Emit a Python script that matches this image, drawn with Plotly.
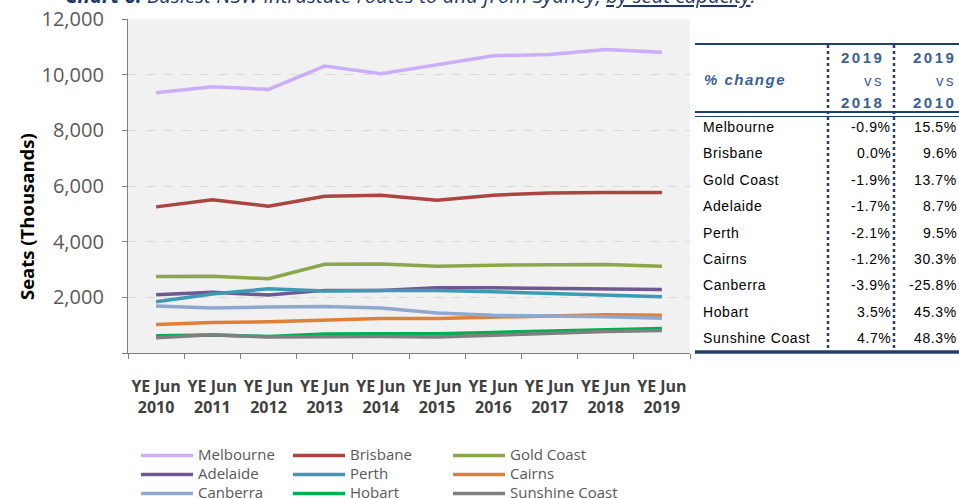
import plotly.graph_objects as go

# ---------------- data ----------------
categories = ["YE Jun<br>2010", "YE Jun<br>2011", "YE Jun<br>2012", "YE Jun<br>2013", "YE Jun<br>2014",
              "YE Jun<br>2015", "YE Jun<br>2016", "YE Jun<br>2017", "YE Jun<br>2018", "YE Jun<br>2019"]

melbourne = [9350, 9565, 9472, 10309, 10032, 10370, 10679, 10729, 10900, 10801]
brisbane = [5250, 5510, 5270, 5630, 5670, 5490, 5670, 5750, 5770, 5770]
gold_coast = [2750, 2760, 2670, 3190, 3200, 3120, 3155, 3155, 3180, 3120]
adelaide = [2095, 2180, 2083, 2250, 2250, 2345, 2345, 2333, 2320, 2285]
perth = [1845, 2120, 2310, 2226, 2250, 2250, 2200, 2143, 2070, 2024]
cairns = [1024, 1095, 1119, 1190, 1238, 1238, 1298, 1333, 1370, 1357]
canberra = [1690, 1619, 1655, 1667, 1619, 1440, 1357, 1333, 1300, 1250]
hobart = [619, 643, 595, 679, 690, 690, 738, 786, 851, 881]
sunshine_coast = [548, 655, 571, 583, 595, 571, 643, 702, 774, 810]

y_tick_values = [0, 2000, 4000, 6000, 8000, 10000, 12000]
y_tick_labels = ["", "2,000", "4,000", "6,000", "8,000", "10,000", "12,000"]

table_routes = ["Melbourne", "Brisbane", "Gold Coast", "Adelaide", "Perth",
                "Cairns", "Canberra", "Hobart", "Sunshine Coast"]
chg_vs_2018 = ["-0.9%", "0.0%", "-1.9%", "-1.7%", "-2.1%", "-1.2%", "-3.9%", "3.5%", "4.7%"]
chg_vs_2010 = ["15.5%", "9.6%", "13.7%", "8.7%", "9.5%", "30.3%", "-25.8%", "45.3%", "48.3%"]

title_text = ("<b>Chart 6:</b> Busiest NSW intrastate routes to and from Sydney, "
              "<u>by seat capacity</u>.")

# (name, values, colour, legend column)
series = [
    ("Melbourne", melbourne, "#CBAEF9", "legend"),
    ("Brisbane", brisbane, "#AB4542", "legend2"),
    ("Gold Coast", gold_coast, "#8CA74B", "legend3"),
    ("Adelaide", adelaide, "#6F5792", "legend"),
    ("Perth", perth, "#3E9AB3", "legend2"),
    ("Cairns", cairns, "#E08038", "legend3"),
    ("Canberra", canberra, "#8FA8D0", "legend"),
    ("Hobart", hobart, "#00B050", "legend2"),
    ("Sunshine Coast", sunshine_coast, "#7F7F7F", "legend3"),
]

# ---------------- layout geometry ----------------
W, H = 959, 498
L, R, T, B = 128, 269, 19, 145
PW, PH = W - L - R, H - T - B


def px(x):
    return (x - L) / PW


def py(y):
    return (H - B - y) / PH


fig = go.Figure()
for name, vals, col, lg in series:
    fig.add_trace(go.Scatter(x=categories, y=vals, mode="lines", legend=lg,
                             name=f"<span style='font-size:15px'>{name}</span>",
                             line=dict(color=col, width=3.5)))


def legend_at(xpix):
    return dict(orientation="v", x=px(xpix), y=py(441), xanchor="left", yanchor="top",
                itemwidth=52, font=dict(size=12, color="#595959", family="Open Sans"),
                bgcolor="rgba(0,0,0,0)", tracegroupgap=0)


fig.update_layout(
    width=W, height=H,
    margin=dict(l=L, r=R, t=T, b=B, pad=0, autoexpand=False),
    paper_bgcolor="white",
    plot_bgcolor="#F1F1F1",
    font=dict(family="Open Sans", color="#595959"),
    showlegend=True,
    legend=legend_at(136),
    legend2=legend_at(288),
    legend3=legend_at(448),
)

fig.update_xaxes(
    type="category", tickson="boundaries", ticks="outside", ticklen=5, tickcolor="#808080",
    showline=True, linecolor="#808080", linewidth=1.3, showgrid=False, tickangle=0,
    tickfont=dict(size=16, color="#404040", family="Open Sans", weight="bold"),
    ticklabelstandoff=19, range=[-0.5, 9.5],
)
fig.update_yaxes(
    range=[0, 12000], tickvals=y_tick_values, ticktext=y_tick_labels,
    ticks="outside", ticklen=5, tickcolor="#808080",
    showline=True, linecolor="#808080", linewidth=1.3,
    showgrid=True, gridcolor="#D9D9D9", griddash="dash", gridwidth=1,
    zeroline=False,
    tickfont=dict(size=20, color="#595959", family="Open Sans"),
    ticklabelstandoff=14,
)

ann = []
# title (partly cut off at top)
ann.append(dict(text=title_text, x=px(63), y=py(-5), xref="paper", yref="paper",
                xanchor="left", yanchor="middle", showarrow=False,
                font=dict(size=20.5, color="#1F3864", family="Open Sans", style="italic")))
# y axis title
ann.append(dict(text="<b>Seats (Thousands)</b>", x=px(26), y=py(217), xref="paper", yref="paper",
                xanchor="center", yanchor="middle", textangle=-90, showarrow=False,
                font=dict(size=18.5, color="#000000", family="Open Sans")))

# ---------------- table ----------------
hdr_col = "#3A5F93"
line_col = "#24406A"
tfont = "Liberation Sans"
ls = "letter-spacing:1.5px"
ann.append(dict(text=f"<span style='{ls}'><b><i>% change</i></b></span>", x=px(702), y=py(79),
                xref="paper", yref="paper", xanchor="left", yanchor="middle", showarrow=False,
                font=dict(size=15, color=hdr_col, family=tfont)))
for xr, yr in [(886, "2018"), (958, "2010")]:
    for txt, yy in [("2019", 57), ("vs", 80), (yr, 102)]:
        t = f"<b>{txt}</b>" if txt != "vs" else txt
        ann.append(dict(text=f"<span style='letter-spacing:2.5px'>{t}</span>", x=px(xr), y=py(yy),
                        xref="paper", yref="paper", xanchor="right", yanchor="middle",
                        showarrow=False, font=dict(size=15, color=hdr_col, family=tfont)))
for i, (r, a, b) in enumerate(zip(table_routes, chg_vs_2018, chg_vs_2010)):
    yy = 127 + i * 26.4
    ann.append(dict(text=f"<span style='letter-spacing:0.6px'>{r}</span>", x=px(701), y=py(yy),
                    xref="paper", yref="paper", xanchor="left", yanchor="middle", showarrow=False,
                    font=dict(size=14, color="#000000", family=tfont)))
    ann.append(dict(text=f"<span style='letter-spacing:0.6px'>{a}</span>", x=px(893), y=py(yy),
                    xref="paper", yref="paper", xanchor="right", yanchor="middle", showarrow=False,
                    font=dict(size=14, color="#000000", family=tfont)))
    ann.append(dict(text=f"<span style='letter-spacing:0.6px'>{b}</span>", x=px(959), y=py(yy),
                    xref="paper", yref="paper", xanchor="right", yanchor="middle", showarrow=False,
                    font=dict(size=14, color="#000000", family=tfont)))

shapes = []
shapes.append(dict(type="line", xref="paper", yref="paper", x0=px(695), x1=px(962),
                   y0=py(44), y1=py(44), line=dict(color=line_col, width=2.2)))
shapes.append(dict(type="line", xref="paper", yref="paper", x0=px(695), x1=px(962),
                   y0=py(112), y1=py(112), line=dict(color=line_col, width=2)))
shapes.append(dict(type="line", xref="paper", yref="paper", x0=px(695), x1=px(962),
                   y0=py(116.5), y1=py(116.5), line=dict(color=line_col, width=1)))
shapes.append(dict(type="line", xref="paper", yref="paper", x0=px(695), x1=px(962),
                   y0=py(352), y1=py(352), line=dict(color=line_col, width=3.5)))
for xv in [828, 894]:
    shapes.append(dict(type="line", xref="paper", yref="paper", x0=px(xv), x1=px(xv),
                       y0=py(45), y1=py(350), line=dict(color=line_col, width=2.5, dash="dot")))

fig.update_layout(annotations=ann, shapes=shapes)

fig.write_html("out.html", config={"displayModeBar": False},
               post_script="document.body.style.margin='0';document.body.style.overflow='hidden';")
